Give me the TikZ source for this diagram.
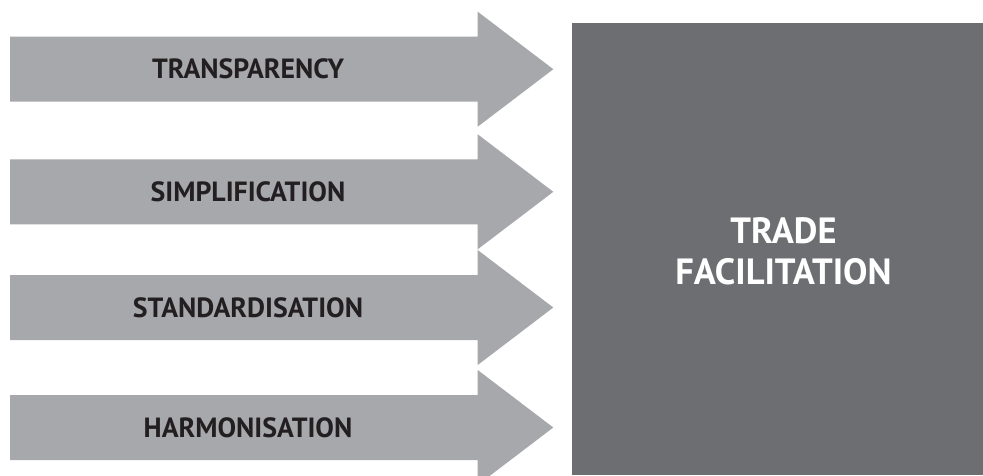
\documentclass[tikz,border=0pt]{standalone}
\usepackage{fontspec}
\setmainfont{PT Sans}
\definecolor{arrowgray}{HTML}{A7A8AC}
\definecolor{boxgray}{HTML}{6D6E72}
\definecolor{labeldark}{HTML}{231F20}
\begin{document}
\begin{tikzpicture}[x=1pt,y=-1pt,
  arrowshape/.style={fill=arrowgray,draw=none},
  arrowlabel/.style={anchor=base,inner sep=0pt,text=labeldark,font=\fontsize{27.8}{32}\selectfont\bfseries},
  goalbox/.style={fill=boxgray,draw=none},
  goallabel/.style={anchor=base,inner sep=0pt,text=white,align=center,font=\fontsize{36.5}{41}\selectfont\bfseries}]
\useasboundingbox (0,0) rectangle (983,475);
\clip (0,0) rectangle (983,475);
% big box
\fill[goalbox] (572.3,22.7) rectangle (983,475);
\node[goallabel] (goal) at (783.5,284) {TRADE\\FACILITATION};
% arrows
\foreach \c/\name/\txt in {69.2/a1/TRANSPARENCY,191.8/a2/SIMPLIFICATION,307.5/a3/STANDARDISATION,427.5/a4/HARMONISATION}{
  \fill[arrowshape] (10,\c-32.5) -- (477.7,\c-32.5) -- (477.7,\c-57.5) -- (553.3,\c) -- (477.7,\c+57.5) -- (477.7,\c+32.5) -- (10,\c+32.5) -- cycle;
  \node[arrowlabel] (\name) at (248,\c+9.6) {\txt};
}
\end{tikzpicture}
\end{document}
